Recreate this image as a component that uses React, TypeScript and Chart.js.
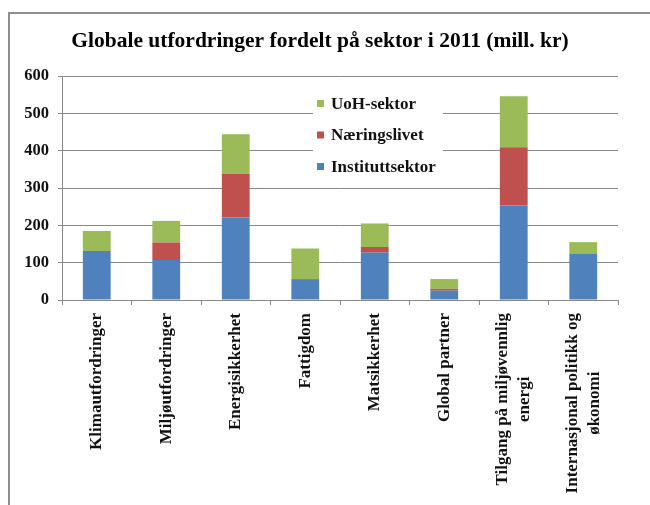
import React, { useEffect, useRef } from "react";
import { Chart, registerables } from "chart.js";

Chart.register(...registerables);

const TITLE = "Globale utfordringer fordelt på sektor i 2011 (mill. kr)";

const categories: string[][] = [
  ["Klimautfordringer"],
  ["Miljøutfordringer"],
  ["Energisikkerhet"],
  ["Fattigdom"],
  ["Matsikkerhet"],
  ["Global partner"],
  ["Tilgang på miljøvennlig", "energi"],
  ["Internasjonal politikk og", "økonomi"],
];

const seriesNames = ["Instituttsektor", "Næringslivet", "UoH-sektor"];
const seriesColors = ["#4F81BD", "#C0504D", "#9BBB59"];

const instituttsektor = [131, 107, 221, 56, 127, 25, 253, 123];
const naeringslivet = [0, 47, 117, 0, 15, 5, 156, 0];
const uohSektor = [54, 58, 106, 82, 63, 26, 137, 32];

const yMin = 0;
const yMax = 600;
const yStep = 100;

const FONT = "'Liberation Serif', 'Times New Roman', serif";
const GRID = "#878787";
const TEXT = "#111111";

const framePlugin = {
  id: "frame",
  afterDraw(chart: any) {
    const ctx = chart.ctx;
    ctx.save();
    ctx.strokeStyle = "#8f8f8f";
    ctx.lineWidth = 2;
    ctx.beginPath();
    ctx.moveTo(9, chart.height);
    ctx.lineTo(9, 13);
    ctx.lineTo(chart.width, 13);
    ctx.stroke();
    ctx.restore();
  },
};

const legendPlugin = {
  id: "insideLegend",
  beforeDatasetsDraw(chart: any) {
    const ctx = chart.ctx;
    ctx.save();
    ctx.fillStyle = "#ffffff";
    ctx.fillRect(313, 80, 130, 104);
    const ds = chart.data.datasets.slice().reverse();
    ctx.font = `bold 17px ${FONT}`;
    ctx.textBaseline = "middle";
    ctx.textAlign = "left";
    ds.forEach((d: any, i: number) => {
      const cy = 103.5 + i * 31.5;
      ctx.fillStyle = d.backgroundColor;
      ctx.fillRect(317, cy - 3.5, 7, 7);
      ctx.fillStyle = TEXT;
      ctx.fillText(d.label, 331, cy + 1);
    });
    ctx.restore();
  },
};

const xLabelPlugin = {
  id: "xLabels",
  afterDraw(chart: any) {
    const ctx = chart.ctx;
    const xs = chart.scales.x;
    const top = chart.chartArea.bottom + 13;
    const spacing = 22;
    ctx.save();
    ctx.font = `bold 17px ${FONT}`;
    ctx.fillStyle = TEXT;
    ctx.textAlign = "center";
    ctx.textBaseline = "middle";
    (chart.data.labels as string[][]).forEach((lines, i) => {
      const x = xs.getPixelForTick(i);
      const maxW = Math.max(...lines.map((l) => ctx.measureText(l).width));
      const n = lines.length;
      lines.forEach((line, j) => {
        const cx = x + (j - (n - 1) / 2) * spacing;
        const cy = top + maxW / 2;
        ctx.save();
        ctx.translate(cx, cy);
        ctx.rotate(-Math.PI / 2);
        ctx.fillText(line, 0, 0);
        ctx.restore();
      });
    });
    ctx.restore();
  },
};

export default function App() {
  const ref = useRef<HTMLCanvasElement | null>(null);

  useEffect(() => {
    if (!ref.current) return;
    const data = [instituttsektor, naeringslivet, uohSektor];
    const chart = new Chart(ref.current, {
      type: "bar",
      data: {
        labels: categories as any,
        datasets: seriesNames.map((name, i) => ({
          label: name,
          data: data[i],
          backgroundColor: seriesColors[i],
          borderWidth: 0,
          barPercentage: 0.4,
          categoryPercentage: 1,
        })),
      },
      options: {
        animation: false,
        responsive: false,
        devicePixelRatio: 1,
        layout: { padding: { left: 22, right: 32, top: 0, bottom: 0 } },
        plugins: {
          legend: { display: false },
          tooltip: { enabled: false },
          title: {
            display: true,
            text: TITLE,
            color: "#000",
            font: { family: FONT, size: 21.5, weight: "bold" },
            padding: { top: 29, bottom: 21.2 },
          },
        },
        scales: {
          x: {
            stacked: true,
            offset: true,
            grid: {
              display: true,
              offset: true,
              drawOnChartArea: false,
              drawTicks: true,
              tickLength: 5,
              color: GRID,
              tickColor: GRID,
            },
            border: { display: true, color: GRID, width: 1 },
            ticks: { display: false },
            afterFit: (s: any) => {
              s.height = 205;
            },
          },
          y: {
            stacked: true,
            min: yMin,
            max: yMax,
            grid: {
              color: GRID,
              tickColor: GRID,
              tickLength: 4,
              lineWidth: 1,
            },
            border: { display: true, color: GRID, width: 1 },
            ticks: {
              stepSize: yStep,
              padding: 9,
              color: TEXT,
              font: { family: FONT, size: 16.5, weight: "bold" },
            },
            afterFit: (s: any) => {
              s.width = 40;
            },
          },
        },
      },
      plugins: [legendPlugin, xLabelPlugin, framePlugin],
    });
    return () => chart.destroy();
  }, []);

  return (
    <div style={{ position: "absolute", left: 0, top: 0, width: 650, height: 505, background: "#fff" }}>
      <canvas ref={ref} width={650} height={505} />
    </div>
  );
}
